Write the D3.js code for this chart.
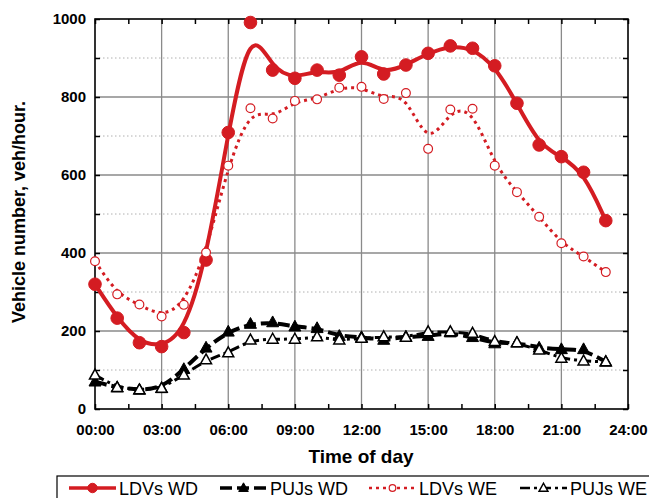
<!DOCTYPE html>
<html>
<head>
<meta charset="utf-8">
<script src="https://cdn.jsdelivr.net/npm/d3@7"></script>
<style>
    body { margin: 0; background: #fff; }
    svg { display: block; font-family: 'Liberation Sans', Arial, sans-serif; }
    .tickLabel text { font-size: 15px; font-weight: bold; fill: #000; }
</style>
</head>
<body>
<svg id="chart" width="649" height="498"></svg>
<script>
const hours = d3.range(0, 24);
const ldvWD = [320, 233, 170, 160, 196, 382, 709, 991, 869, 848, 869, 856, 903, 859, 882, 912, 931, 925, 880, 784, 677, 647, 607, 483];
const ldvWE = [379, 294, 268, 237, 267, 401, 624, 771, 745, 790, 794, 824, 826, 795, 810, 667, 768, 770, 624, 556, 493, 425, 391, 351];
const pujWD = [70, 55, 49, 53, 102, 157, 198, 218, 222, 211, 207, 187, 184, 177, 185, 187, 196, 184, 168, 170, 157, 153, 153, 121];
const pujWE = [87, 55, 49, 53, 87, 126, 144, 177, 179, 179, 185, 177, 181, 185, 184, 198, 198, 194, 173, 170, 151, 130, 123, 121];
const xTicks = [0, 3, 6, 9, 12, 15, 18, 21, 24];
const yTicks = [0, 200, 400, 600, 800, 1000];
const legendLabels = ['LDVs WD', 'PUJs WD', 'LDVs WE', 'PUJs WE'];

const red = '#d41c22';
const plot = { left: 95, right: 628, top: 19, bottom: 409 };

const svg = d3.select('#chart');
const x = d3.scaleLinear([0, 24], [plot.left, plot.right]);
const y = d3.scaleLinear([0, 1000], [plot.bottom, plot.top]);

// Grid lines
const grid = svg.append('g');
grid.selectAll('.vgrid').data(xTicks.slice(1, -1)).enter().append('line')
    .attr('x1', d => x(d)).attr('x2', d => x(d))
    .attr('y1', plot.top).attr('y2', plot.bottom)
    .attr('stroke', '#8a8a8a').attr('stroke-width', 1.3);
grid.selectAll('.hgrid').data(yTicks.slice(1, -1)).enter().append('line')
    .attr('x1', plot.left).attr('x2', plot.right)
    .attr('y1', d => y(d)).attr('y2', d => y(d))
    .attr('stroke', '#8a8a8a').attr('stroke-width', 1.3);
grid.selectAll('.hminor').data([100, 300, 500, 700, 900]).enter().append('line')
    .attr('x1', plot.left).attr('x2', plot.right)
    .attr('y1', d => y(d)).attr('y2', d => y(d))
    .attr('stroke', '#b0b0b0').attr('stroke-width', 1).attr('stroke-dasharray', '1.5,2.5');

// Axes (ticks point inward)
const fmt = d => String(d).padStart(2, '0') + ':00';
const xMinor = d3.range(0, 24.01, 1.5);
svg.append('g').attr('transform', `translate(0,${plot.bottom})`)
    .call(d3.axisBottom(x).tickValues(xMinor).tickSize(-5).tickFormat(''))
    .call(g => g.select('.domain').remove())
    .selectAll('line').attr('stroke-width', 1.5);
svg.append('g').attr('transform', `translate(0,${plot.top})`)
    .call(d3.axisTop(x).tickValues(xMinor).tickSize(-5).tickFormat(''))
    .call(g => g.select('.domain').remove())
    .selectAll('line').attr('stroke-width', 1.5);
svg.append('g').attr('class', 'tickLabel').attr('transform', `translate(0,${plot.bottom})`)
    .call(d3.axisBottom(x).tickValues(xTicks).tickSize(0).tickPadding(15).tickFormat(fmt))
    .call(g => g.select('.domain').remove());

const yMinor = d3.range(0, 1001, 100);
svg.append('g').attr('transform', `translate(${plot.left},0)`)
    .call(d3.axisLeft(y).tickValues(yMinor).tickSize(-5).tickFormat(''))
    .call(g => g.select('.domain').remove())
    .selectAll('line').attr('stroke-width', 1.5);
svg.append('g').attr('transform', `translate(${plot.right},0)`)
    .call(d3.axisRight(y).tickValues(yMinor).tickSize(-5).tickFormat(''))
    .call(g => g.select('.domain').remove())
    .selectAll('line').attr('stroke-width', 1.5);
svg.append('g').attr('class', 'tickLabel').attr('transform', `translate(${plot.left},0)`)
    .call(d3.axisLeft(y).tickValues(yTicks).tickSize(0).tickPadding(9).tickFormat(d3.format('d')))
    .call(g => g.select('.domain').remove());

// Frame
svg.append('rect')
    .attr('x', plot.left).attr('y', plot.top)
    .attr('width', plot.right - plot.left).attr('height', plot.bottom - plot.top)
    .attr('fill', 'none').attr('stroke', '#000').attr('stroke-width', 1.6);

// Axis titles
svg.append('text')
    .attr('transform', `translate(25,212) rotate(-90)`)
    .attr('text-anchor', 'middle')
    .style('font-size', '18px').style('font-weight', 'bold')
    .text('Vehicle number, veh/hour.');
svg.append('text')
    .attr('x', 361).attr('y', 463)
    .attr('text-anchor', 'middle')
    .style('font-size', '19px').style('font-weight', 'bold')
    .text('Time of day');

// Series
const series = [
    { name: legendLabels[0], data: ldvWD, color: red, width: 4, dash: null, marker: 'circle', fill: red, size: 6.3 },
    { name: legendLabels[1], data: pujWD, color: '#000', width: 4, dash: '12,5', marker: 'triangle', fill: '#000', size: 12 },
    { name: legendLabels[2], data: ldvWE, color: red, width: 3, dash: '3,4', marker: 'circle', fill: '#fff', size: 4.4 },
    { name: legendLabels[3], data: pujWE, color: '#000', width: 3, dash: '10,4,3,4', marker: 'triangle', fill: '#fff', size: 11 },
];

const line = d3.line().x((d, i) => x(hours[i])).y(d => y(d)).curve(d3.curveBasis);
const triPath = s => {
    const h = s * 0.9;
    return `M0,${-h * 0.6}L${s / 2},${h * 0.4}L${-s / 2},${h * 0.4}Z`;
};

function drawMarker(g, s, cx, cy) {
    if (s.marker === 'circle') {
        g.append('circle').attr('cx', cx).attr('cy', cy).attr('r', s.size)
            .attr('fill', s.fill).attr('stroke', s.color).attr('stroke-width', s.fill === '#fff' ? 1.2 : 1);
    }
    else {
        g.append('path').attr('d', triPath(s.size)).attr('transform', `translate(${cx},${cy})`)
            .attr('fill', s.fill).attr('stroke', s.color).attr('stroke-width', s.fill === '#fff' ? 1.5 : 1);
    }
}

series.forEach((s) => {
    const g = svg.append('g');
    g.append('path')
        .attr('d', line(s.data))
        .attr('fill', 'none')
        .attr('stroke', s.color)
        .attr('stroke-width', s.width)
        .attr('stroke-dasharray', s.dash);
    s.data.forEach((d, i) => drawMarker(g, s, x(hours[i]), y(d)));
});

// Legend
svg.append('rect')
    .attr('x', 57).attr('y', 476).attr('width', 620).attr('height', 40)
    .attr('fill', 'none').attr('stroke', '#000').attr('stroke-width', 1.2);
const legendX = [69, 220, 369, 520];
series.forEach((s, i) => {
    const g = svg.append('g');
    const x0 = legendX[i];
    const ly = 488;
    g.append('line')
        .attr('x1', x0).attr('x2', x0 + 47).attr('y1', ly).attr('y2', ly)
        .attr('stroke', s.color).attr('stroke-width', s.width - 0.5)
        .attr('stroke-dasharray', s.dash);
    drawMarker(g, { ...s, size: s.marker === 'circle' ? s.size * 0.75 : s.size * 0.8 }, x0 + 23.5, ly);
    g.append('text')
        .attr('x', x0 + 50).attr('y', ly + 7)
        .style('font-size', '18px')
        .text(s.name);
});
</script>
</body>
</html>
